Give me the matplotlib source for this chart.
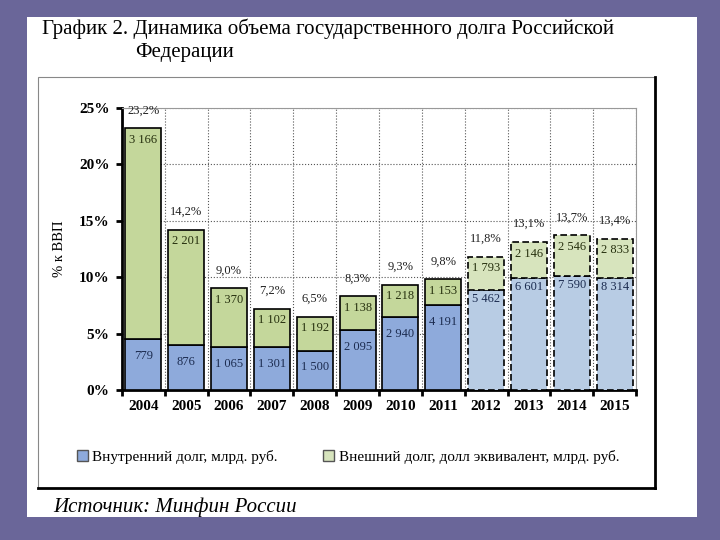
import matplotlib.pyplot as plt
from matplotlib.patches import Rectangle
from matplotlib.lines import Line2D

plt.rcParams['font.family'] = ['Liberation Serif', 'DejaVu Serif']

years = ['2004', '2005', '2006', '2007', '2008', '2009', '2010', '2011',
         '2012', '2013', '2014', '2015']
# млрд. руб.
internal_rub = [779, 876, 1065, 1301, 1500, 2095, 2940, 4191, 5462, 6601, 7590, 8314]
external_rub = [3166, 2201, 1370, 1102, 1192, 1138, 1218, 1153, 1793, 2146, 2546, 2833]
# % к ВВП
internal_pct = [4.5, 4.0, 3.8, 3.8, 3.5, 5.3, 6.5, 7.5, 8.9, 9.9, 10.1, 9.9]
total_pct = [23.2, 14.2, 9.0, 7.2, 6.5, 8.3, 9.3, 9.8, 11.8, 13.1, 13.7, 13.4]
total_labels = ['23,2%', '14,2%', '9,0%', '7,2%', '6,5%', '8,3%', '9,3%', '9,8%',
                '11,8%', '13,1%', '13,7%', '13,4%']
forecast_from = 8

def fmt(v):
    s = str(v)
    return s[:-3] + ' ' + s[-3:] if len(s) > 3 else s

W, H = 720, 540
fig = plt.figure(figsize=(7.2, 5.4), dpi=100, facecolor='#6a6699')

def px(x, y):
    return x / W, 1 - y / H

# white page
fig.patches.append(Rectangle(px(27, 517), 670 / W, 500 / H, transform=fig.transFigure,
                             facecolor='white', edgecolor='none', zorder=0))
# chart frame
fig.patches.append(Rectangle(px(38, 488), 617 / W, 411 / H, transform=fig.transFigure,
                             facecolor='white', edgecolor='#888888', lw=0.8, zorder=1))
fig.lines.append(Line2D([655 / W, 655 / W], [1 - 77 / H, 1 - 488 / H],
                        transform=fig.transFigure, color='black', lw=2, zorder=2))
fig.lines.append(Line2D([38 / W, 655 / W], [1 - 488 / H, 1 - 488 / H],
                        transform=fig.transFigure, color='black', lw=2, zorder=2))

fig.text(42 / W, 1 - 29 / H, 'График 2. Динамика объема государственного долга Российской',
         fontsize=15, va='center', ha='left')
fig.text(135 / W, 1 - 53 / H, 'Федерации', fontsize=15, va='center', ha='left')
fig.text(53 / W, 1 - 507 / H, 'Источник: Минфин России', fontsize=15, style='italic',
         va='center', ha='left')

ax = fig.add_axes([122 / W, 1 - 390 / H, 514 / W, 282 / H])
ax.set_zorder(3)
x = list(range(len(years)))
ext_pct = [t - i for t, i in zip(total_pct, internal_pct)]

for i in x:
    fc = i >= forecast_from
    ls = (0, (4, 2)) if fc else '-'
    c_in = '#b8cce4' if fc else '#8eaadb'
    c_ex = '#d7e4bd' if fc else '#c4d79b'
    ax.bar(i, internal_pct[i], width=0.84, color=c_in, edgecolor='black',
           linewidth=1.2, linestyle=ls, zorder=3)
    ax.bar(i, ext_pct[i], bottom=internal_pct[i], width=0.84, color=c_ex,
           edgecolor='black', linewidth=1.2, linestyle=ls, zorder=3)
    off_in = 0.8 if fc else 1.5
    ax.text(i, internal_pct[i] - off_in, fmt(internal_rub[i]), ha='center', va='center',
            fontsize=9, color='#1c2c50', zorder=4)
    ax.text(i, total_pct[i] - 1.0, fmt(external_rub[i]), ha='center', va='center',
            fontsize=9, color='#26300e', zorder=4)
    ax.text(i, total_pct[i] + 1.6, total_labels[i], ha='center', va='center',
            fontsize=9, color='#222222', zorder=4)

ax.set_xlim(-0.5, len(years) - 0.5)
ax.set_ylim(0, 25)
ax.set_yticks([0, 5, 10, 15, 20, 25])
ax.set_yticklabels(['0%', '5%', '10%', '15%', '20%', '25%'], fontweight='bold', fontsize=11)
ax.set_xticks(x)
ax.set_xticklabels(years, fontsize=11, fontweight='bold')
ax.set_xticks([i - 0.5 for i in range(len(years) + 1)], minor=True)
ax.tick_params(axis='x', which='major', length=0, pad=7)
ax.tick_params(axis='x', which='minor', length=4, width=2, direction='out')
ax.tick_params(axis='y', length=4, width=2, direction='out', pad=5)
ax.grid(axis='y', which='major', color='#555555', linestyle=':', linewidth=0.8, zorder=0)
ax.grid(axis='x', which='minor', color='#555555', linestyle=':', linewidth=0.8, zorder=0)
ax.set_axisbelow(True)
for s in ['left', 'bottom']:
    ax.spines[s].set_linewidth(2)
for s in ['top', 'right']:
    ax.spines[s].set_color('#999999')
    ax.spines[s].set_linewidth(0.8)
ax.set_ylabel('% к ВВП', fontsize=10.5, labelpad=9)

handles = [Rectangle((0, 0), 1, 1, facecolor='#8eaadb', edgecolor='#555555'),
           Rectangle((0, 0), 1, 1, facecolor='#d7e4bd', edgecolor='#555555')]
fig.legend(handles, ['Внутренний долг, млрд. руб.', 'Внешний долг, долл эквивалент, млрд. руб.'],
           loc='center', bbox_to_anchor=(348 / W, 1 - 457 / H), ncol=2, frameon=False,
           fontsize=11, handlelength=0.7, handleheight=0.7, handletextpad=0.3,
           columnspacing=3.0)

fig.savefig('out.png', dpi=100, facecolor=fig.get_facecolor())
